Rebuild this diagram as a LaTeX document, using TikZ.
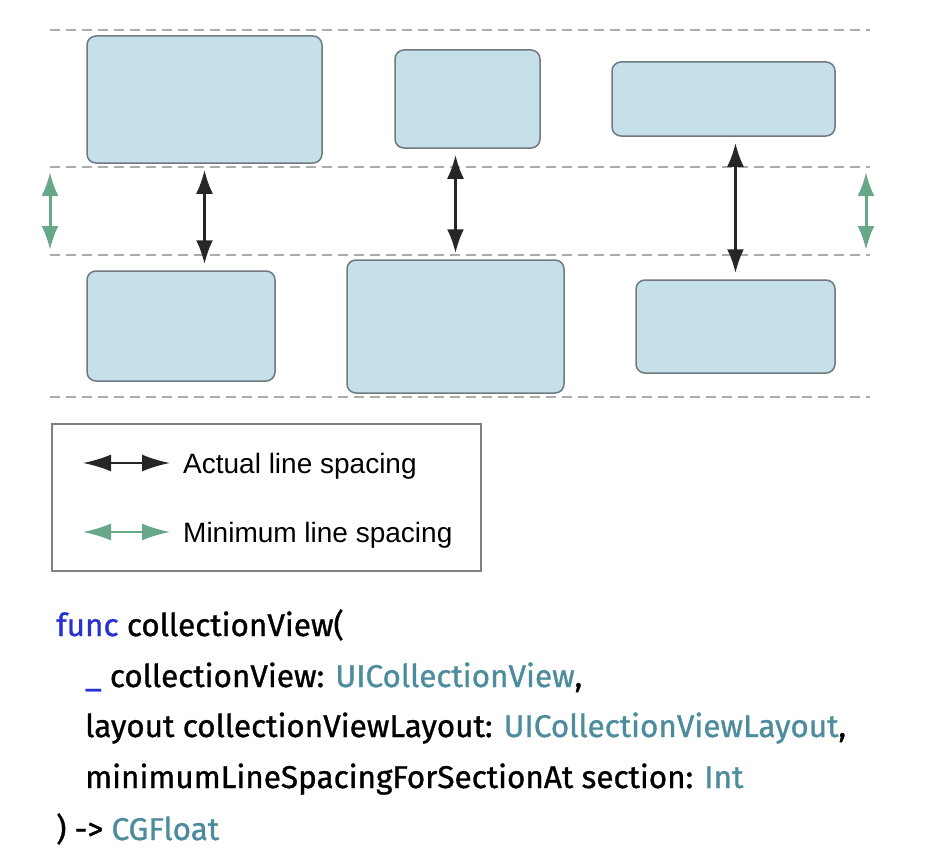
\documentclass[tikz,border=0pt]{standalone}
\usepackage{fontspec}
\setmainfont{Liberation Sans}
\newfontfamily\codefont[FakeBold=1]{Fira Sans}
\usetikzlibrary{arrows.meta}
\usetikzlibrary{positioning}
\definecolor{cellfill}{RGB}{197,224,233}
\definecolor{cellline}{RGB}{112,120,128}
\definecolor{dashgray}{RGB}{172,172,172}
\definecolor{mingreen}{RGB}{104,168,136}
\definecolor{kwblue}{RGB}{40,50,210}
\definecolor{typeteal}{RGB}{76,140,156}
\tikzstyle{cell}=[draw=cellline,fill=cellfill,line width=1.5pt,rounded corners=9pt,inner sep=0pt]
\tikzstyle{rowline}=[dashgray,line width=1.5pt,dash pattern=on 10pt off 6pt]
\tikzstyle{actualarrow}=[{Latex[length=24pt,width=17pt]}-{Latex[length=24pt,width=17pt]},line width=3pt,black!85]
\tikzstyle{minarrow}=[{Latex[length=24pt,width=17pt]}-{Latex[length=24pt,width=17pt]},line width=3pt,mingreen]
\tikzstyle{keyarrow}=[{Latex[length=28pt,width=17pt]}-{Latex[length=28pt,width=17pt]},line width=2pt]
\tikzstyle{legendtext}=[font=\fontsize{28}{32}\selectfont,inner sep=0pt,anchor=base west]
\tikzstyle{codeline}=[font=\codefont\fontsize{31.5}{36}\selectfont,inner sep=0pt,anchor=base west]

\begin{document}
\begin{tikzpicture}[x=1pt,y=-1pt]
\useasboundingbox (0,0) rectangle (936,856);

%rows
    \foreach \y/\name in {30/r0, 167/r1, 255/r2, 397/r3}{
        \coordinate (\name l) at (50,\y);
        \coordinate (\name r) at (870,\y);
        \draw[rowline] (\name l) -- (\name r);
    }

%cells
    \foreach \pos/\name/\w/\h in {{(204.5,99.5)/A/235/127}, {(467.5,99)/B/145/98}, {(723.5,99)/C/223/74},
                                  {(181,326)/D/188/110}, {(455.5,326.5)/E/217/133}, {(735.5,326.5)/F/199/93}}
        \node[cell,minimum width=\w pt,minimum height=\h pt] (\name) at \pos {};

%actual spacing
    \draw[actualarrow,shorten <=6pt,shorten >=6pt] (A.south) -- (A.south |- D.north);
    \draw[actualarrow,shorten <=6pt,shorten >=6pt] (B.south -| E.north) -- (E.north);
    \draw[actualarrow,shorten <=6pt,shorten >=6pt] (C.south -| F.north) -- (F.north);

%minimum spacing
    \coordinate (gl1) at (50,172);  \coordinate (gl2) at (50,250);
    \coordinate (gr1) at (866,172); \coordinate (gr2) at (866,250);
    \draw[minarrow] (gl1) -- (gl2);
    \draw[minarrow] (gr1) -- (gr2);

%legend
    \node[draw=black!50,line width=1.5pt,minimum width=429pt,minimum height=147pt,inner sep=0pt] (key) at (266.5,497.5) {};
    \coordinate (ka1) at (83,463);  \coordinate (ka2) at (170,463);
    \coordinate (km1) at (83,532);  \coordinate (km2) at (170,532);
    \draw[keyarrow,black!85] (ka1) -- (ka2);
    \draw[keyarrow,mingreen] (km1) -- (km2);
    \node[legendtext] (katext) at (183,473) {Actual line spacing};
    \node[legendtext] (kmtext) at (183,542) {Minimum line spacing};

%code
    \node[codeline] (c1) at (56,636) {{\color{kwblue}func} collectionView(};
    \node[codeline] (c2) at (85,687) {{\color{kwblue}\_} collectionView: {\color{typeteal}UICollectionView},};
    \node[codeline] (c3) at (85,737) {layout collectionViewLayout: {\color{typeteal}UICollectionViewLayout},};
    \node[codeline] (c4) at (85,788) {minimumLineSpacingForSectionAt section: {\color{typeteal}Int}};
    \node[codeline] (c5) at (56,840) {) -> {\color{typeteal}CGFloat}};

\end{tikzpicture}
\end{document}
